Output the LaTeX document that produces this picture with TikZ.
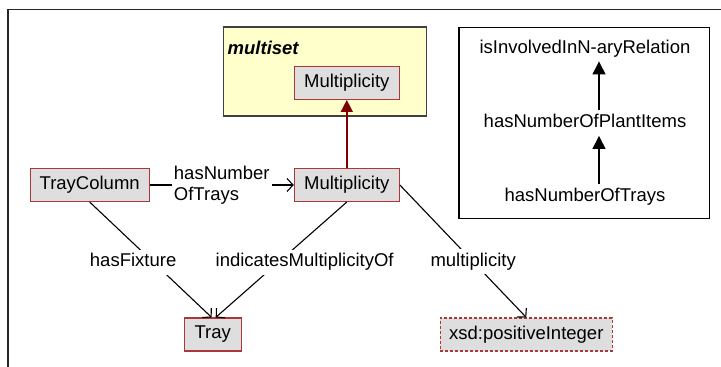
\documentclass[tikz,border=0pt]{standalone}
\usepackage{fontspec}
\setmainfont{Liberation Sans}
\usepackage{xcolor}
\definecolor{owlRed}{RGB}{170,56,56}
\definecolor{owlGray}{RGB}{222,222,222}
\definecolor{owlDark}{RGB}{128,0,0}
\definecolor{owlYellow}{RGB}{255,255,204}
\usepackage{tikz}
\usetikzlibrary{positioning,arrows.meta}

\begin{document}
\begin{tikzpicture}[x=1pt,y=1pt,
  cls/.style={draw=owlRed,fill=owlGray,line width=1.1pt,inner sep=0pt,minimum height=33pt,font=\fontsize{18.5}{21}\selectfont},
  dtype/.style={cls,dash pattern=on 3pt off 2pt},
  lbl/.style={fill=white,inner xsep=2pt,inner ysep=4pt,text height=13.2pt,text depth=3.9pt,font=\fontsize{18.5}{21}\selectfont},
  prop/.style={lbl,fill=none},
  a/.style={-{Straight Barb[length=6pt,width=13pt]},line width=1.1pt},
  sub/.style={-{Triangle[length=12pt,width=12pt]},owlDark,line width=1.4pt},
  isa/.style={-{Triangle[length=13pt,width=13pt]},line width=1.3pt}]
  \useasboundingbox (0,0) rectangle (721,367);
  \draw[line width=1.4pt,black!85] (8,0) |- (721,357.5);

  % class with its superclass
  \node[draw=black!75,fill=owlYellow,line width=1.1pt,inner sep=0pt,minimum width=203.7pt,minimum height=89pt] (msbox) at (324.9,295.5) {};
  \node[anchor=base west,inner sep=0pt,font=\fontsize{18.5}{21}\selectfont\bfseries\itshape] (mstitle) at ([xshift=5pt,yshift=-28pt]msbox.north west) {multiset};
  \node[cls,minimum width=119pt] (tc) at (89.7,182) {TrayColumn};
  \node[cls,minimum width=105pt,right=144pt of tc] (mult) {Multiplicity};
  \node[cls,minimum width=105pt,above=68pt of mult] (mset) {Multiplicity};
  \node[cls,minimum width=57pt] (tray) at (212.7,32.5) {Tray};
  \node[dtype,minimum width=172pt,right=198pt of tray] (xsd) {xsd:positiveInteger};

  \draw[sub] (mult) -- (mset);
  \draw[a] (tc) -- node[fill=white,inner sep=2pt,align=left,font=\fontsize{18.5}{21}\selectfont] {hasNumber\\OfTrays} (mult);
  \draw[a] (tc.south) -- node[lbl,pos=0.52,xshift=-20pt] {hasFixture} ([xshift=-1pt]tray.north);
  \draw[a] (mult.south) -- node[lbl,pos=0.52,xshift=26pt] {indicatesMultiplicityOf} ([xshift=3pt]tray.north);
  \draw[a] (mult.east) -- node[lbl,pos=0.58] {multiplicity} (xsd.north);

  % property hierarchy
  \node[draw,line width=1.1pt,inner sep=0pt,minimum width=250.4pt,minimum height=191pt] (legbox) at (584.2,244.2) {};
  \node[prop] (trays) at (585,170.3) {hasNumberOfTrays};
  \node[prop,above=48pt of trays] (plant) {hasNumberOfPlantItems};
  \node[prop,above=49pt of plant] (nary) {isInvolvedInN-aryRelation};
  \draw[isa] ([xshift=14pt]trays.north) -- ([xshift=14pt]plant.south);
  \draw[isa] ([xshift=14pt]plant.north) -- ([xshift=14pt]nary.south);
\end{tikzpicture}
\end{document}
